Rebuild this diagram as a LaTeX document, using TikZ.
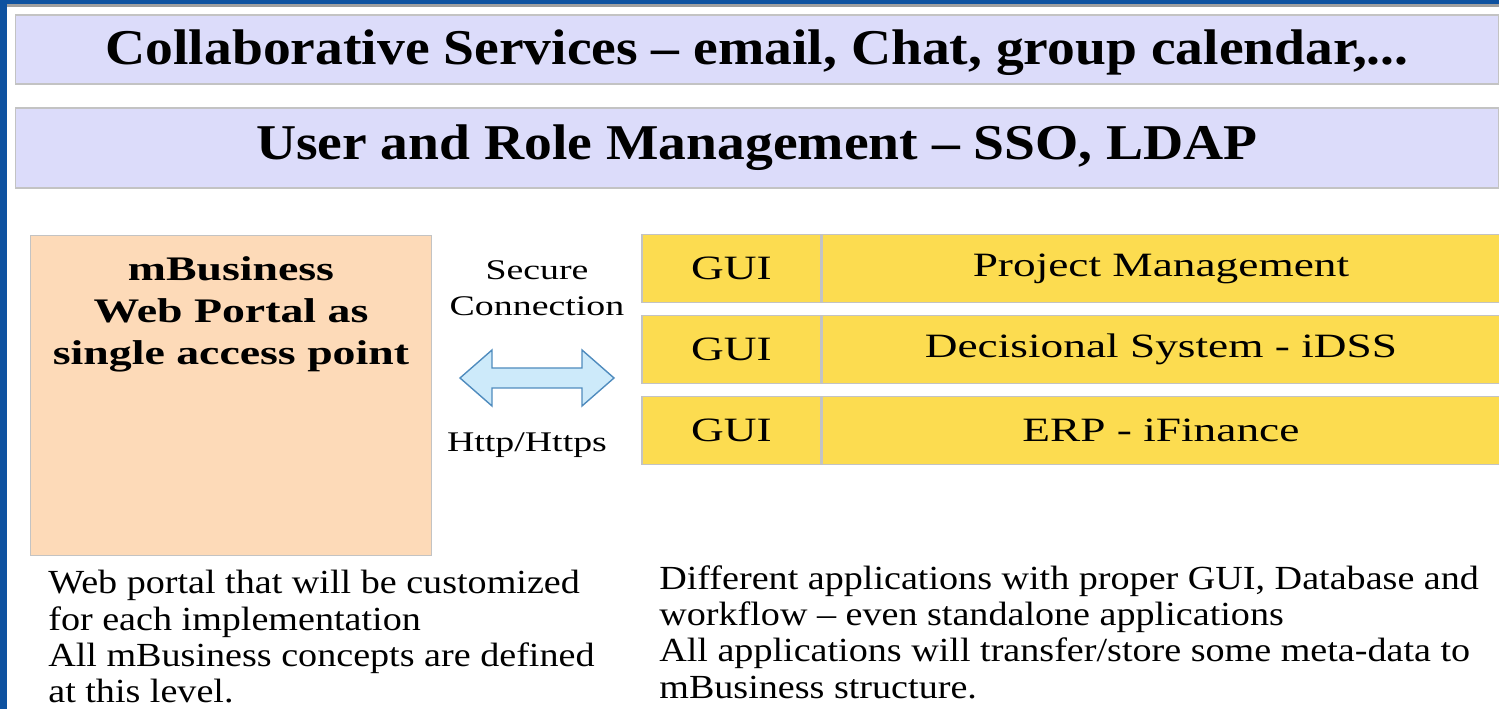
\documentclass[tikz,border=0pt]{standalone}
\usepackage{fontspec}
\setmainfont{Liberation Serif}[FakeStretch=1.11]
\newfontfamily\wideserif{Liberation Serif}[FakeStretch=1.33, Ligatures=TeX]
\newfontfamily\noteserif{Liberation Serif}[FakeStretch=1.13, Ligatures=TeX]
\usepackage{xcolor}
\usetikzlibrary{positioning}
\definecolor{slideblue}{RGB}{14,82,160}
\definecolor{layerfill}{RGB}{220,220,250}
\definecolor{portalfill}{RGB}{253,218,184}
\definecolor{appfill}{RGB}{252,220,80}
\definecolor{boxline}{RGB}{195,195,195}
\definecolor{linkfill}{RGB}{205,234,250}
\definecolor{linkline}{RGB}{80,140,190}
\tikzset{
    layerbox/.style={draw=boxline, fill=layerfill, line width=0.6pt, minimum width=29.68cm, inner sep=0pt,
        font=\fontsize{28.5}{30}\selectfont\bfseries},
    portalbox/.style={draw=boxline, fill=portalfill, line width=0.6pt, minimum width=8.04cm, minimum height=6.42cm},
    guibox/.style={draw=boxline, fill=appfill, line width=0.6pt, minimum width=3.58cm, minimum height=1.36cm,
        inner sep=0pt, font=\wideserif\fontsize{19.4}{20}\selectfont},
    appbox/.style={guibox, minimum width=13.56cm},
    notetext/.style={align=left, inner sep=0pt, anchor=north west, font=\noteserif\fontsize{19.2}{20.7}\selectfont},
    linktext/.style={align=center, inner sep=0pt, font=\wideserif\fontsize{16.2}{20.4}\selectfont},
    linkarrow/.style={draw=linkline, fill=linkfill, line width=0.8pt, line join=miter}
}
\newcommand{\servicelayer}[5][]{
    \node[layerbox, minimum height=#4, #1] (#2) at (757, #3) {#5};
}
\newcommand{\approw}[3]{
    \node[guibox] (#1-g) at (731.5, #2) {GUI};
    \node[appbox, right=0pt of #1-g] (#1) {#3};
}
\begin{document}
\begin{tikzpicture}[x=0.02cm, y=-0.02cm]
    \useasboundingbox (0, 0) rectangle (1499, 709);
    \clip (0, 0) rectangle (1499, 709);
    % slide frame
    \fill[slideblue] (0, 0) rectangle (1499, 4);
    \fill[gray!75] (7, 4) rectangle (1499, 7);
    \fill[slideblue] (0, 0) rectangle (7, 709);
    % service layers
    \servicelayer[text height=20pt, text depth=2.4pt]{collab}{49.5}{1.38cm}{Collaborative Services -- email, Chat, group calendar,...}
    \servicelayer{usermgmt}{148}{1.6cm}{User and Role Management -- SSO, LDAP}
    % portal
    \node[portalbox, label={[anchor=north, align=center, yshift=-0.32cm,
        font=\wideserif\fontsize{19.6}{23.8}\selectfont\bfseries]north:{mBusiness\\Web Portal as\\single access point}}]
        (portal) at (231, 395.5) {};
    % applications
    \approw{pm}{268.5}{Project Management}
    \approw{idss}{349.5}{Decisional System - iDSS}
    \approw{erp}{430.5}{ERP - iFinance}
    % secure connection
    \coordinate (link) at (537, 378);
    \draw[linkarrow] (link) ++(-77, 0) -- ++(32, -28) -- ++(0, 18) -- ++(90, 0) -- ++(0, -18) -- ++(32, 28)
        -- ++(-32, 28) -- ++(0, -18) -- ++(-90, 0) -- ++(0, 18) -- cycle;
    \node[linktext] (secure) at (537, 288) {Secure\\Connection};
    \node[linktext] (http) at (527, 445) {Http/Https};
    % notes
    \node[notetext] (portalnote) at (48, 570) {Web portal that will be customized\\for each implementation\\All mBusiness concepts are defined\\at this level.};
    \node[notetext] (appnote) at (659, 565) {Different applications with proper GUI, Database and\\workflow -- even standalone applications\\All applications will transfer/store some meta-data to\\mBusiness structure.};
\end{tikzpicture}
\end{document}
